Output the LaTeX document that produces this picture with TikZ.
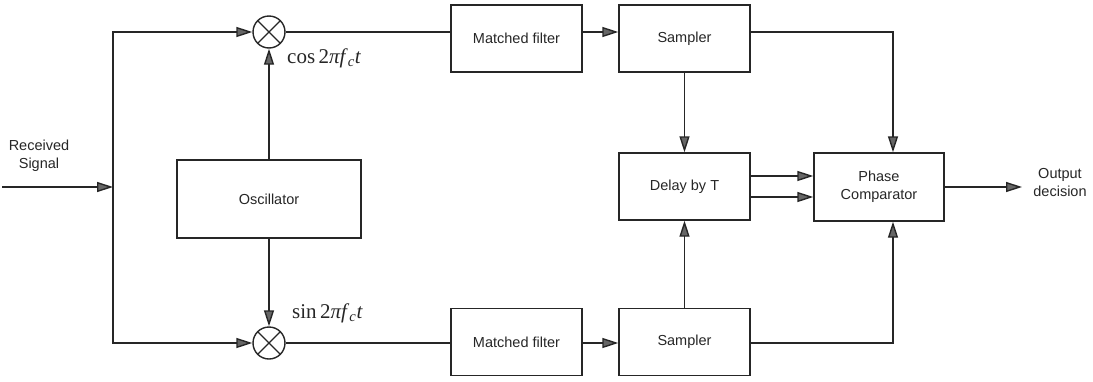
\documentclass[tikz,border=0pt]{standalone}
\usepackage{fontspec}
\setmainfont{Liberation Sans}
\newfontfamily\timesf{Liberation Serif}
\usetikzlibrary{arrows.meta}
\begin{document}
\begin{tikzpicture}[x=1pt,y=-1pt,
  line/.style={draw=black!85,line width=1.4pt},
  arr/.style={line,-{Triangle[length=16pt,width=10pt,fill=black!60]}},
  blk/.style={line,rectangle,inner sep=0pt,minimum width=131pt,minimum height=67pt,
    font=\fontsize{14.5}{18}\selectfont,text=black!85,align=center},
  mixer/.style={line,circle,minimum size=32pt,inner sep=0pt,
    path picture={\draw[black!85,line width=1.4pt]
      (path picture bounding box.south west) -- (path picture bounding box.north east)
      (path picture bounding box.north west) -- (path picture bounding box.south east);}},
  lbl/.style={font=\fontsize{14.5}{18}\selectfont,text=black!85,align=center},
  mathlbl/.style={font=\timesf\fontsize{21}{24}\selectfont,text=black!85,anchor=west,inner sep=0pt}]
\useasboundingbox (0,0) rectangle (1093,381);

% mixers and oscillator
\node[mixer] (mix1) at (269,32) {};
\node[mixer] (mix2) at (269,343) {};
\node[blk,minimum width=184pt,minimum height=78pt] (osc) at (269,199) {Oscillator};

% upper branch
\node[blk] (mf1) at (516.5,38.5) {Matched filter};
\node[blk] (s1) at (684.5,38.5) {Sampler};

% lower branch
\node[blk] (mf2) at (516.5,342) {Matched filter};
\node[blk] (s2) at (684.5,342) {Sampler};

% delay and comparator
\node[blk] (dl) at (684.5,186.5) {Delay by T};
\node[blk,minimum width=130pt,minimum height=68pt] (pc) at (879,187) {Phase\\Comparator};

% input splitting
\coordinate (in) at (2,187);
\coordinate (split) at (113,187);
\coordinate (out) at (1022,187);
\node[lbl] (rx) at (39,156) {Received\\Signal};
\node[lbl] (od) at (1060,183) {Output\\decision};

\draw[arr] (in) -- (split);
\draw[arr] (split) |- (mix1.west);
\draw[arr] (split) |- (mix2.west);

% carrier references
\draw[arr] (osc.north) -- (mix1.south);
\draw[arr] (osc.south) -- (mix2.north);
\node[mathlbl] (cosl) at (287,58) {cos\,2\textit{πf}\textsubscript{\textit{c}}\textit{t}};
\node[mathlbl] (sinl) at (292,313) {sin\,2\textit{πf}\textsubscript{\textit{c}}\textit{t}};

% signal paths
\draw[line] (mix1.east) -- (mix1.east -| mf1.west);
\draw[arr] (mf1.east |- mix1) -- (s1.west |- mix1);
\draw[line] (mix2.east) -- (mix2.east -| mf2.west);
\draw[arr] (mf2.east |- mix2) -- (s2.west |- mix2);

\draw[arr] (s1.south) -- (dl.north);
\draw[arr] (s2.north) -- (dl.south);

\draw[arr] (s1.east |- mix1) -| ([xshift=14pt]pc.north);
\draw[arr] (s2.east |- mix2) -| ([xshift=14pt]pc.south);

\draw[arr] ([yshift=10.5pt]dl.east) -- ([yshift=10.5pt]dl.east -| pc.west);
\draw[arr] ([yshift=-10.5pt]dl.east) -- ([yshift=-10.5pt]dl.east -| pc.west);

\draw[arr] (pc.east) -- (out);
\end{tikzpicture}
\end{document}
